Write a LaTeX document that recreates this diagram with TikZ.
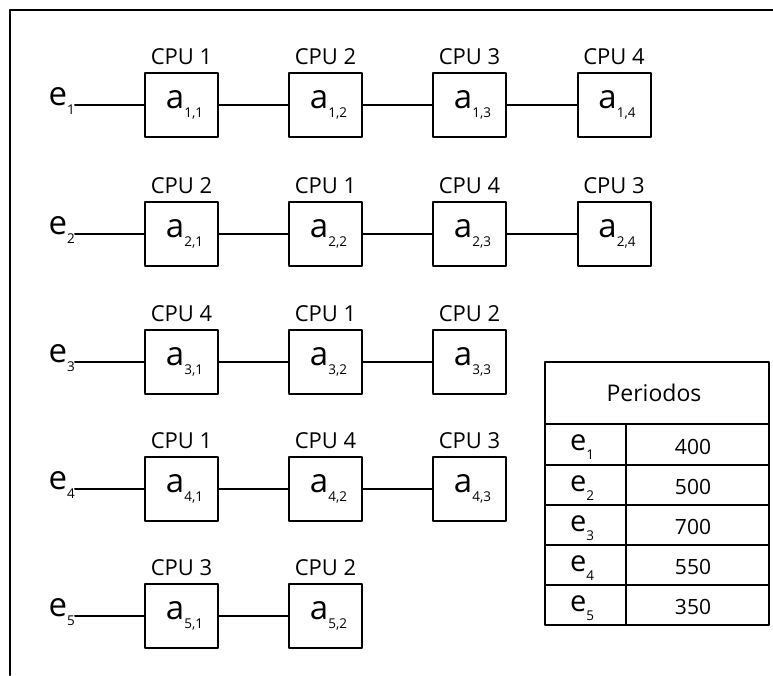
\documentclass[tikz,border=0pt]{standalone}
\usepackage{fontspec}
\setmainfont{Open Sans}
\usetikzlibrary{positioning}

% small lowered index after a letter
\newcommand{\SubIdx}[1]{\raisebox{-9pt}{\fontsize{13.5}{13.5}\selectfont #1}}

\begin{document}
\begin{tikzpicture}[x=1pt, y=-1pt, line cap=round, line join=round]

% ---------------- styles ----------------
\tikzset{
  jobBox/.style   ={draw, line width=2pt, minimum width=73pt, minimum height=64pt,
                    inner sep=0pt, font=\fontsize{33}{33}\selectfont},
  cpuLabel/.style ={font=\fontsize{22}{22}\selectfont, inner sep=0pt},
  jobLabel/.style ={font=\fontsize{33}{33}\selectfont, inner sep=0pt, anchor=base east},
  jobLink/.style  ={line width=2pt},
  frameLine/.style={line width=2.2pt},
  tabLine/.style  ={line width=2pt},
  tabKey/.style   ={font=\fontsize{29}{29}\selectfont, inner sep=0pt, anchor=base west},
  tabVal/.style   ={font=\fontsize{21}{21}\selectfont, inner sep=0pt}
}

\useasboundingbox (0,0) rectangle (773,675);

% ---------------- parameters ----------------
\def\ColA{181.5} % column centres
\def\ColB{325.5}
\def\ColC{469.5}
\def\ColD{614}
\def\RowA{105}   % row centres
\def\RowB{234}
\def\RowC{362}
\def\RowD{489}
\def\RowE{616}
\def\ELabX{75}   % right end of the e labels

% helper: one task box with its CPU above
% #1 name, #2 x, #3 y, #4 cpu, #5 index
\newcommand{\Stage}[5]{%
  \node[jobBox] (#1) at (#2,#3) {\hspace*{6pt}a\SubIdx{#5}};
  \node[cpuLabel, above=7pt of #1] (#1cpu) {CPU #4};
}

% ---------------- frame ----------------
\draw[frameLine] (10,675) -- (10,10) -- (773,10);

% ---------------- job 1 ----------------
\node[jobLabel] (e1) at (\ELabX,\RowA) {e\SubIdx{1}};
\Stage{a11}{\ColA}{\RowA}{1}{1,1}
\Stage{a12}{\ColB}{\RowA}{2}{1,2}
\Stage{a13}{\ColC}{\RowA}{3}{1,3}
\Stage{a14}{\ColD}{\RowA}{4}{1,4}
\draw[jobLink] (e1.base east) -- (a11.west);
\draw[jobLink] (a11) -- (a12);
\draw[jobLink] (a12) -- (a13);
\draw[jobLink] (a13) -- (a14);

% ---------------- job 2 ----------------
\node[jobLabel] (e2) at (\ELabX,\RowB) {e\SubIdx{2}};
\Stage{a21}{\ColA}{\RowB}{2}{2,1}
\Stage{a22}{\ColB}{\RowB}{1}{2,2}
\Stage{a23}{\ColC}{\RowB}{4}{2,3}
\Stage{a24}{\ColD}{\RowB}{3}{2,4}
\draw[jobLink] (e2.base east) -- (a21.west);
\draw[jobLink] (a21) -- (a22);
\draw[jobLink] (a22) -- (a23);
\draw[jobLink] (a23) -- (a24);

% ---------------- job 3 ----------------
\node[jobLabel] (e3) at (\ELabX,\RowC) {e\SubIdx{3}};
\Stage{a31}{\ColA}{\RowC}{4}{3,1}
\Stage{a32}{\ColB}{\RowC}{1}{3,2}
\Stage{a33}{\ColC}{\RowC}{2}{3,3}
\draw[jobLink] (e3.base east) -- (a31.west);
\draw[jobLink] (a31) -- (a32);
\draw[jobLink] (a32) -- (a33);

% ---------------- job 4 ----------------
\node[jobLabel] (e4) at (\ELabX,\RowD) {e\SubIdx{4}};
\Stage{a41}{\ColA}{\RowD}{1}{4,1}
\Stage{a42}{\ColB}{\RowD}{4}{4,2}
\Stage{a43}{\ColC}{\RowD}{3}{4,3}
\draw[jobLink] (e4.base east) -- (a41.west);
\draw[jobLink] (a41) -- (a42);
\draw[jobLink] (a42) -- (a43);

% ---------------- job 5 ----------------
\node[jobLabel] (e5) at (\ELabX,\RowE) {e\SubIdx{5}};
\Stage{a51}{\ColA}{\RowE}{3}{5,1}
\Stage{a52}{\ColB}{\RowE}{2}{5,2}
\draw[jobLink] (e5.base east) -- (a51.west);
\draw[jobLink] (a51) -- (a52);

% ---------------- period table ----------------
\draw[tabLine] (545,362) rectangle (769,625);
\draw[tabLine] (545,424) -- (769,424);
\draw[tabLine] (545,465) -- (769,465);
\draw[tabLine] (545,505) -- (769,505);
\draw[tabLine] (545,545) -- (769,545);
\draw[tabLine] (545,585) -- (769,585);
\draw[tabLine] (626,424) -- (626,625);

\node[tabVal, font=\fontsize{23}{23}\selectfont] (tabHead) at (654,393) {Periodos};

\node[tabKey] (tabE1) at (570,450) {e\SubIdx{1}};
\node[tabKey] (tabE2) at (570,491) {e\SubIdx{2}};
\node[tabKey] (tabE3) at (570,531) {e\SubIdx{3}};
\node[tabKey] (tabE4) at (570,571) {e\SubIdx{4}};
\node[tabKey] (tabE5) at (570,611) {e\SubIdx{5}};

\node[tabVal] (tabV1) at (693,447) {400};
\node[tabVal] (tabV2) at (693,487) {500};
\node[tabVal] (tabV3) at (693,527) {700};
\node[tabVal] (tabV4) at (693,567) {550};
\node[tabVal] (tabV5) at (693,607) {350};

\end{tikzpicture}
\end{document}
